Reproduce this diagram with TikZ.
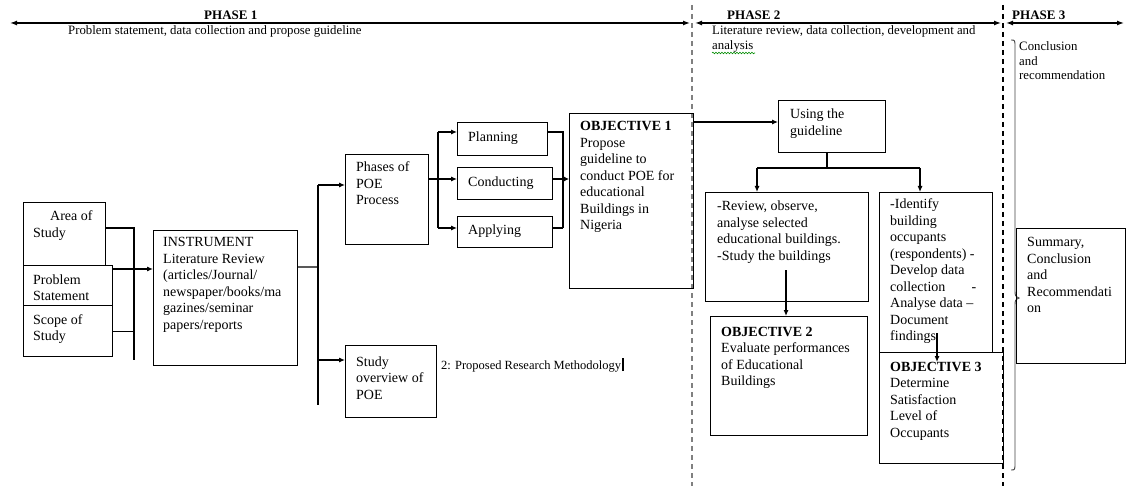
\documentclass[tikz,border=0pt]{standalone}
\usepackage{fontspec}
\setmainfont{Liberation Serif}
\usetikzlibrary{arrows.meta,decorations.pathmorphing}
% multi-line text whose reference point is the first baseline
\newcommand\lines[1]{\begin{tabular}[t]{@{}l@{}}#1\end{tabular}}

\begin{document}
\begin{tikzpicture}[x=1pt,y=-1pt,
  box/.style={draw, line width=1.1pt, inner sep=0pt, anchor=north west},
  txt/.style={anchor=base west, inner sep=0pt, font=\fontsize{14}{16.5}\selectfont},
  hdr/.style={anchor=base west, inner sep=0pt, font=\fontsize{12.8}{14.5}\selectfont},
  ttl/.style={anchor=base west, inner sep=0pt, font=\fontsize{13}{15}\selectfont\bfseries},
  link/.style={line width=1.1pt},
  arr/.style={line width=1.1pt, -{Latex[length=6pt,width=5pt]}},
  harr/.style={line width=1.3pt, {Latex[length=7pt,width=5pt]}-{Latex[length=7pt,width=5pt]}},
  phaseline/.style={line width=1.3pt, dash pattern=on 5pt off 4pt},
]
\useasboundingbox (0,0) rectangle (1126,486);
\fill[white] (0,0) rectangle (1126,486);

% ---------- phase header ----------
\coordinate (p1L) at (10,23);   \coordinate (p1R) at (690,23);
\coordinate (p2L) at (695,23);  \coordinate (p2R) at (1001,23);
\coordinate (p3L) at (1006,23); \coordinate (p3R) at (1124,23);
\draw[harr] (p1L) -- (p1R);
\draw[harr] (p2L) -- (p2R);
\draw[harr] (p3L) -- (p3R);

\coordinate (d1t) at (692,5);  \coordinate (d1b) at (692,486);
\coordinate (d2t) at (1003,5); \coordinate (d2b) at (1003,486);
\draw[phaseline, gray] (d1t) -- (d1b);
\draw[phaseline] (d2t) -- (d2b);

\node[ttl] (ph1) at (204,20) {PHASE 1};
\node[ttl] (ph2) at (727,20) {PHASE 2};
\node[ttl] (ph3) at (1012,20) {PHASE 3};
\node[hdr] (sub1) at (68,35) {Problem statement, data collection and propose guideline};
\node[hdr] (sub2) at (712,35) {\lines{Literature review, data collection, development and\\analysis}};
\draw[green!55!black, line width=0.6pt, decorate,
      decoration={snake, amplitude=0.8pt, segment length=3pt}] (712,53) -- (755,53);
\node[hdr] (sub3) at (1019,51) {\lines{Conclusion\\and\\recommendation}};

% brace grouping phase 3
\draw[gray!55!black, line width=0.9pt]
  (1011,40) .. controls (1015,40) .. (1015,48) -- (1015,290)
  .. controls (1015,296) .. (1019,298) .. controls (1015,300) .. (1015,306)
  -- (1015,462) .. controls (1015,470) .. (1011,470);

% ---------- phase 1 boxes ----------
\node[box, minimum width=82pt, minimum height=63pt] (area) at (23,202) {};
\node[box, minimum width=89pt, minimum height=40pt] (prob) at (23,265) {};
\node[box, minimum width=89pt, minimum height=51pt] (scope) at (23,305) {};
\node[box, minimum width=144pt, minimum height=135pt] (instr) at (153,230) {};
\node[box, minimum width=83pt, minimum height=90pt] (phases) at (345,154) {};
\node[box, minimum width=91pt, minimum height=72pt] (study) at (345,345) {};
\node[box, minimum width=90pt, minimum height=33pt] (plan) at (457,122) {};
\node[box, minimum width=95pt, minimum height=32pt] (cond) at (457,167) {};
\node[box, minimum width=95pt, minimum height=31pt] (apply) at (457,216) {};
\node[box, minimum width=124pt, minimum height=175pt] (obj1) at (569,113) {};

\node[txt] (tarea) at (33,221) {\lines{\hspace*{17pt}Area of\\Study}};
\node[txt] (tprob) at (33,284) {\lines{Problem\\Statement}};
\node[txt] (tscope) at (33,324) {\lines{Scope of\\Study}};
\node[txt] (tinstr) at (163,247) {\lines{INSTRUMENT\\Literature Review\\(articles/Journal/\\newspaper/books/ma\\gazines/seminar\\papers/reports}};
\node[txt] (tphases) at (356,172) {\lines{Phases of\\POE\\Process}};
\node[txt] (tstudy) at (356,366) {\lines{Study\\overview of\\POE}};
\node[txt] (tplan) at (468,142) {Planning};
\node[txt] (tcond) at (468,187) {Conducting};
\node[txt] (tapply) at (468,235) {Applying};
\node[txt] (tobj1) at (580,131) {\lines{\textbf{OBJECTIVE 1}\\Propose\\guideline to\\conduct POE for\\educational\\Buildings in\\Nigeria}};
\node[anchor=base west, inner sep=0pt, font=\fontsize{12.5}{14}\selectfont] (method) at (441,369)
  {2: Proposed Research Methodology\hspace{1pt}\rule[-2pt]{2pt}{13pt}};

% connectors, phase 1
\coordinate (b1t) at (134,228);
\coordinate (b1b) at (134,360);
\draw[link] (area.east |- b1t) -- (b1t) -- (b1b);
\draw[link] (scope.east) -- (scope.east -| b1t);
\coordinate (pin) at ([yshift=-4pt]prob.north east);
\draw[arr] (pin) -- (pin -| instr.west);

\coordinate (iout) at ([yshift=-37pt]instr.north east);
\coordinate (b2t) at (318,185);
\coordinate (b2b) at (318,405);
\draw[link, gray!70!black] (iout) -- (iout -| b2t);
\draw[link] (b2t) -- (b2b);
\draw[arr] (b2t) -- (b2t -| phases.west);
\coordinate (b2s) at (318,360);
\draw[arr] (b2s) -- (b2s -| study.west);

\coordinate (b3m) at (438,179);
\coordinate (b3t) at (438,132);
\coordinate (b3b) at (438,228);
\draw[link] (phases.east |- b3m) -- (b3m);
\draw[link] (b3t) -- (b3b);
\draw[arr] (b3t) -- (b3t -| plan.west);
\draw[arr] (b3m) -- (b3m -| cond.west);
\draw[arr] (b3b) -- (b3b -| apply.west);

\coordinate (b4t) at (563,132);
\coordinate (b4m) at (563,179);
\coordinate (b4b) at (563,228);
\draw[link] (plan.east |- b4t) -- (b4t) -- (b4b);
\draw[link] (cond.east |- b4m) -- (b4m);
\draw[link] (apply.east |- b4b) -- (b4b);
\draw[line width=1.1pt, -{Latex[length=5pt,width=5pt]}] (b4m) -- (b4m -| obj1.west);

% ---------- phase 2 boxes ----------
\node[box, minimum width=107pt, minimum height=52pt] (using) at (778,100) {};
\node[box, minimum width=163pt, minimum height=109pt] (review) at (705,192) {};
\node[box, minimum width=157pt, minimum height=119pt] (obj2) at (710,316) {};
\node[box, minimum width=113pt, minimum height=160pt] (ident) at (879,192) {};
\node[box, minimum width=124pt, minimum height=111pt] (obj3) at (879,352) {};

\node[txt] (tusing) at (790,119) {\lines{Using the\\guideline}};
\node[txt] (treview) at (717,211) {\lines{-Review, observe,\\analyse selected\\educational buildings.\\-Study the buildings}};
\node[txt] (tobj2) at (721,336) {\lines{\textbf{OBJECTIVE 2}\\Evaluate performances\\of Educational\\Buildings}};
\node[txt] (tident) at (890,209) {\lines{-Identify\\building\\occupants\\(respondents) -\\Develop data\\\makebox[86pt][l]{collection\hfill-}\\Analyse data --\\Document\\findings}};
\node[txt] (tobj3) at (890,371) {\lines{\textbf{OBJECTIVE 3}\\Determine\\Satisfaction\\Level of\\Occupants}};

\coordinate (o1out) at ([yshift=-9pt]obj1.north east);
\draw[arr] (o1out) -- (o1out -| using.west);
\coordinate (usplit) at (827,168);
\coordinate (uleft) at (757,168);
\coordinate (uright) at (920,168);
\draw[link] (usplit |- using.south) -- (usplit);
\draw[link] (uleft) -- (uright);
\draw[arr] (uleft) -- (uleft |- review.north);
\draw[arr] (uright) -- (uright |- ident.north);
\coordinate (rin) at (786,270);
\draw[arr] (rin) -- (rin |- obj2.north);
\coordinate (iin) at (937,333);
\coordinate (o3in) at (937,362);
\draw[arr] (iin) -- (o3in);

% ---------- phase 3 box ----------
\node[box, minimum width=109pt, minimum height=135pt] (summ) at (1016,228) {};
\node[txt] (tsumm) at (1027,247) {\lines{Summary,\\Conclusion\\and\\Recommendati\\on}};
\end{tikzpicture}
\end{document}
